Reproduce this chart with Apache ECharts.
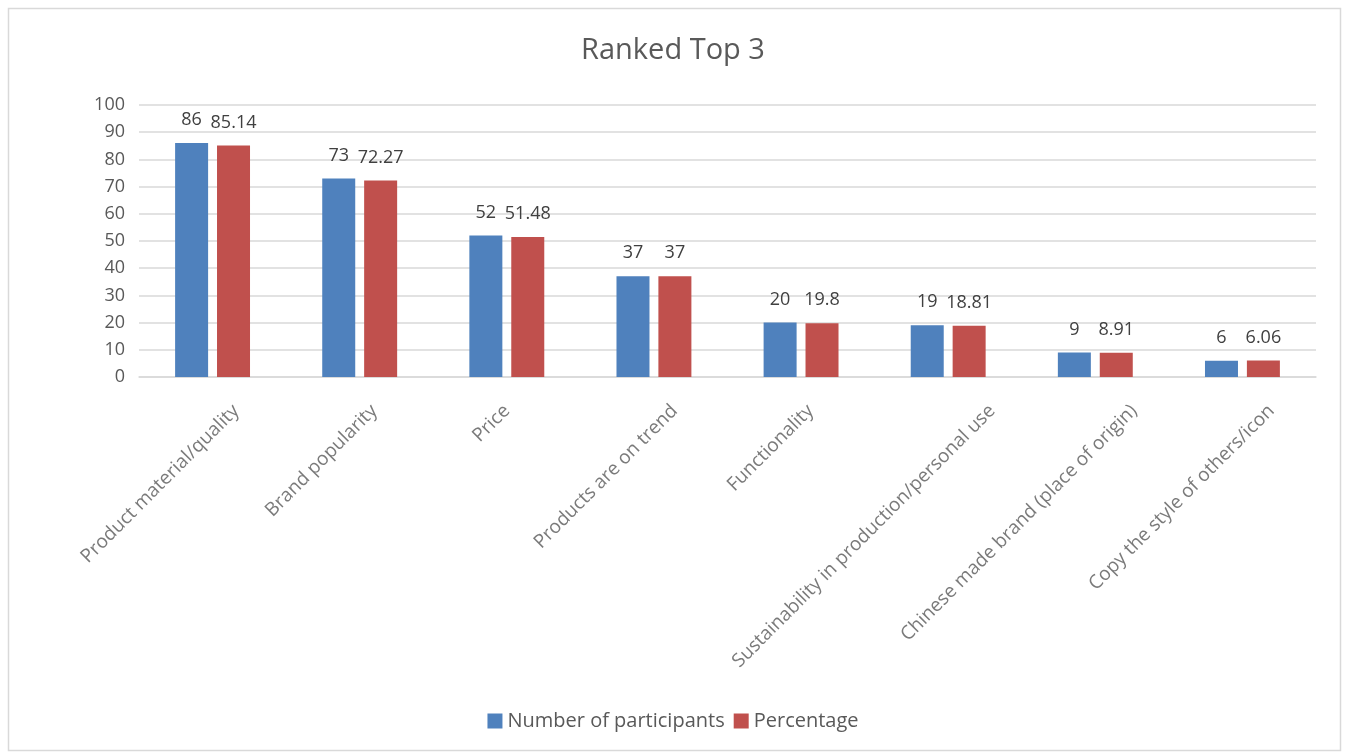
<!DOCTYPE html>
<html>
<head>
<meta charset="utf-8">
<script src="https://cdn.jsdelivr.net/npm/echarts@6/dist/echarts.min.js"></script>
<style>
  html, body { margin: 0; padding: 0; background: #fff; }
  #chart { width: 1346px; height: 756px; }
</style>
</head>
<body>
<div id="chart"></div>
<script>
// Reasons ranked in the top 3
const categories = [
  'Product material/quality',
  'Brand popularity',
  'Price',
  'Products are on trend',
  'Functionality',
  'Sustainability in production/personal use',
  'Chinese made brand (place of origin)',
  'Copy the style of others/icon'
];
const participants = [86, 73, 52, 37, 20, 19, 9, 6];
const percentage = [85.14, 72.27, 51.48, 37, 19.8, 18.81, 8.91, 6.06];
const yTicks = [0, 10, 20, 30, 40, 50, 60, 70, 80, 90, 100];

const FONT = '"Open Sans", "DejaVu Sans", sans-serif';
const CAT_FONT_SIZE = 19;

// Slanted category names are hung under each category's zero point.
// Longer names end a little further right of their category centre,
// so each gets an offset from its measured width.
const measureCtx = document.createElement('canvas').getContext('2d');
measureCtx.font = CAT_FONT_SIZE + 'px ' + FONT;
const R = Math.SQRT1_2;
const nameMarks = categories.map(function (name, i) {
  const w = measureCtx.measureText(name).width;
  const dx = 0.138 * w - 6;  // horizontal shift of the text end
  const dy = 31;             // drop below the axis line
  return {
    value: [i, 0],
    label: { offset: [R * (dx - dy), R * (dx + dy)] }
  };
});

const chart = echarts.init(document.getElementById('chart'));

const valueLabel = {
  show: true,
  position: 'top',
  distance: 14,
  fontFamily: FONT,
  fontSize: 18,
  color: '#404040'
};

chart.setOption({
  backgroundColor: '#ffffff',
  animation: false,
  title: {
    text: 'Ranked Top 3',
    left: 'center',
    top: 31,
    textStyle: { fontFamily: FONT, fontSize: 29, fontWeight: 'normal', color: '#595959' }
  },
  legend: {
    bottom: 20,
    left: 'center',
    itemWidth: 15,
    itemHeight: 15,
    itemGap: 9,
    icon: 'rect',
    textStyle: { fontFamily: FONT, fontSize: 20, color: '#595959' },
    data: ['Number of participants', 'Percentage']
  },
  graphic: [{
    type: 'rect',
    silent: true,
    z: -1,
    shape: { x: 8.5, y: 8.5, width: 1332, height: 742 },
    style: { fill: 'none', stroke: '#d9d9d9', lineWidth: 1.5 }
  }],
  grid: { left: 139, right: 30, top: 105, bottom: 379 },
  xAxis: {
    type: 'category',
    data: categories,
    axisTick: { show: false },
    axisLine: { show: true, lineStyle: { color: '#d9d9d9', width: 1.5 } },
    axisLabel: { show: false }
  },
  yAxis: {
    type: 'value',
    min: yTicks[0],
    max: yTicks[yTicks.length - 1],
    interval: yTicks[1] - yTicks[0],
    axisLine: { show: false },
    axisTick: { show: false },
    splitLine: { lineStyle: { color: '#d9d9d9', width: 1.5 } },
    axisLabel: { margin: 14, fontFamily: FONT, fontSize: 18, color: '#595959' }
  },
  series: [
    {
      name: 'Number of participants',
      type: 'bar',
      data: participants,
      barWidth: 33,
      barGap: '27%',
      itemStyle: { color: '#4f81bd' },
      label: valueLabel
    },
    {
      name: 'Percentage',
      type: 'bar',
      data: percentage,
      barWidth: 33,
      itemStyle: { color: '#c0504d' },
      label: valueLabel
    },
    {
      name: 'Category names',
      type: 'scatter',
      data: nameMarks,
      symbolSize: 0,
      silent: true,
      clip: false,
      emphasis: { disabled: true },
      label: {
        show: true,
        position: 'inside',
        rotate: 45,
        align: 'right',
        verticalAlign: 'middle',
        fontFamily: FONT,
        fontSize: CAT_FONT_SIZE,
        color: '#595959',
        formatter: function (p) { return categories[p.dataIndex]; }
      }
    }
  ]
});
</script>
</body>
</html>
